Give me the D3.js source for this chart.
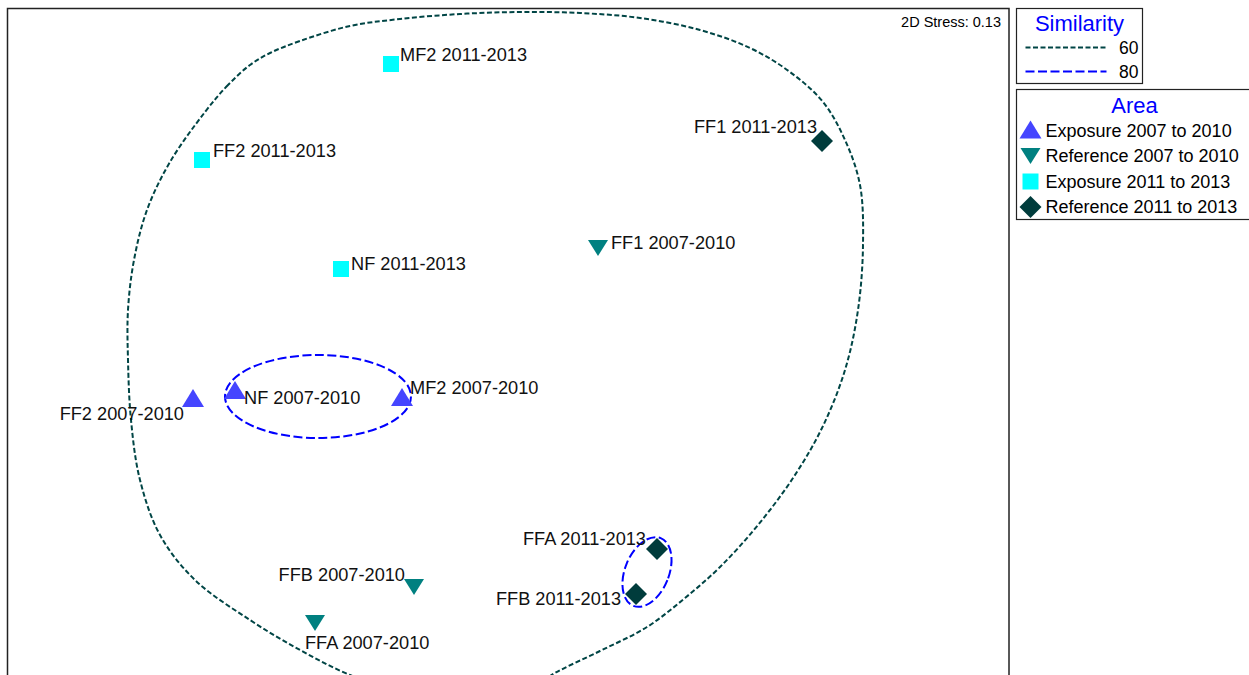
<!DOCTYPE html>
<html>
<head>
<meta charset="utf-8">
<script src="https://cdn.jsdelivr.net/npm/d3@7"></script>
<style>
  body { margin: 0; background: #fff; }
  svg { font-family: "Liberation Sans", Arial, sans-serif; }
</style>
</head>
<body>
<div id="chart"></div>
<script>
// MDS ordination coordinates (arbitrary units)
var sites = ["MF2 2011-2013", "FF2 2011-2013", "NF 2011-2013", "FF1 2007-2010", "FF1 2011-2013",
  "FF2 2007-2010", "NF 2007-2010", "MF2 2007-2010", "FFA 2011-2013", "FFB 2011-2013",
  "FFB 2007-2010", "FFA 2007-2010"];
var groups = ["Exposure 2011 to 2013", "Exposure 2011 to 2013", "Exposure 2011 to 2013", "Reference 2007 to 2010",
  "Reference 2011 to 2013", "Exposure 2007 to 2010", "Exposure 2007 to 2010", "Exposure 2007 to 2010",
  "Reference 2011 to 2013", "Reference 2011 to 2013", "Reference 2007 to 2010", "Reference 2007 to 2010"];
var mdsX = [-0.468, -1.224, -0.668, 0.360, 1.256, -1.260, -1.092, -0.424, 0.596, 0.512, -0.376, -0.772];
var mdsY = [1.104, 0.720, 0.284, 0.368, 0.796, -0.236, -0.204, -0.232, -0.836, -1.016, -0.988, -1.132];

var areaLegend = ["Exposure 2007 to 2010", "Reference 2007 to 2010", "Exposure 2011 to 2013", "Reference 2011 to 2013"];
var similarityLevels = [60, 80];
var stress = 0.13;

// 60% similarity contour, traced anticlockwise from upper left
var contour60 = [[-1.032, 1.1], [-1.12, 1.02], [-1.212, 0.912], [-1.352, 0.712], [-1.444, 0.52], [-1.496, 0.32],
  [-1.52, 0.12], [-1.52, -0.08], [-1.508, -0.32], [-1.472, -0.56], [-1.392, -0.78], [-1.252, -0.96],
  [-1.032, -1.12], [-0.832, -1.24], [-0.632, -1.34], [-0.392, -1.42], [-0.152, -1.448], [0.048, -1.42],
  [0.188, -1.332], [0.368, -1.244], [0.556, -1.148], [0.708, -1.032], [0.848, -0.908], [1.0, -0.74],
  [1.14, -0.552], [1.256, -0.352], [1.348, -0.12], [1.4, 0.12], [1.42, 0.38], [1.408, 0.62],
  [1.348, 0.8], [1.26, 0.952], [1.128, 1.072], [0.968, 1.168], [0.768, 1.24], [0.528, 1.288],
  [0.288, 1.308], [0.048, 1.312], [-0.192, 1.304], [-0.432, 1.284], [-0.632, 1.256], [-0.832, 1.196],
  [-0.952, 1.148]];
// 80% similarity clusters: centre x, centre y, semi-axes, tilt (deg)
var contour80 = [
  { cx: -0.76, cy: -0.226, rx: 0.372, ry: 0.166, tilt: 0 },
  { cx: 0.556, cy: -0.928, rx: 0.088, ry: 0.146, tilt: 22 }
];

var width = 1249, height = 675;
var plot = { x0: 7.5, y0: 8.5, x1: 1009, y1: 700 };

var svg = d3.select("#chart").append("svg")
  .attr("width", width)
  .attr("height", height);

var x = d3.scaleLinear().domain([-2, 2]).range([8, 1008]);
var y = d3.scaleLinear().domain([1.33, -1.33]).range([7.5, 672.5]);

var colors = {
  "Exposure 2007 to 2010": "#4545ff",
  "Reference 2007 to 2010": "#008080",
  "Exposure 2011 to 2013": "#00ffff",
  "Reference 2011 to 2013": "#003c3c"
};
var shapes = {
  "Exposure 2007 to 2010": "up",
  "Reference 2007 to 2010": "down",
  "Exposure 2011 to 2013": "square",
  "Reference 2011 to 2013": "diamond"
};

function symbolPath(kind) {
  if (kind == "up") return "M0,-10 L11,8 L-11,8 Z";
  if (kind == "down") return "M-10,-8 L10,-8 L0,8 Z";
  if (kind == "square") return "M-8,-8 L8,-8 L8,8 L-8,8 Z";
  return "M0,-11 L11,0 L0,11 L-11,0 Z";
}

// plot frame
svg.append("rect")
  .attr("x", plot.x0).attr("y", plot.y0)
  .attr("width", plot.x1 - plot.x0).attr("height", plot.y1 - plot.y0)
  .attr("fill", "none").attr("stroke", "#222").attr("stroke-width", 1.5);

svg.append("text")
  .attr("x", 1001).attr("y", 27)
  .attr("text-anchor", "end")
  .style("font-size", "14.5px")
  .text("2D Stress: " + stress);

var g = svg.append("g");

// 60 contour
var line = d3.line()
  .x(d => x(d[0]))
  .y(d => y(d[1]))
  .curve(d3.curveCatmullRomClosed);

g.append("path")
  .attr("d", line(contour60))
  .attr("fill", "none")
  .attr("stroke", "#004545")
  .attr("stroke-width", 2)
  .attr("stroke-dasharray", "5,2.5");

// 80 contours
g.selectAll("ellipse.c80")
  .data(contour80)
  .enter().append("ellipse")
  .attr("class", "c80")
  .attr("cx", 0).attr("cy", 0)
  .attr("rx", d => x(d.rx) - x(0))
  .attr("ry", d => y(0) - y(d.ry))
  .attr("transform", d => "translate(" + x(d.cx) + "," + y(d.cy) + ") rotate(" + d.tilt + ")")
  .attr("fill", "none")
  .attr("stroke", "#0000ff")
  .attr("stroke-width", 2)
  .attr("stroke-dasharray", "9,3.5");

// points
var points = sites.map((s, i) => ({ name: s, group: groups[i], x: mdsX[i], y: mdsY[i] }));

g.selectAll("path.pt")
  .data(points)
  .enter().append("path")
  .attr("class", "pt")
  .attr("d", d => symbolPath(shapes[d.group]))
  .attr("transform", d => "translate(" + x(d.x) + "," + y(d.y) + ")")
  .attr("fill", d => colors[d.group]);

// label placement around each symbol
var labelPos = {
  "MF2 2011-2013": [9, -3, "start"],
  "FF2 2011-2013": [11, -3, "start"],
  "NF 2011-2013": [10, 1, "start"],
  "FF1 2007-2010": [13, 1, "start"],
  "FF1 2011-2013": [-5, -8, "end"],
  "FF2 2007-2010": [-9, 21, "end"],
  "NF 2007-2010": [9, 13, "start"],
  "MF2 2007-2010": [8, -4, "start"],
  "FFA 2011-2013": [-11, -4, "end"],
  "FFB 2011-2013": [-15, 11, "end"],
  "FFB 2007-2010": [-9, -6, "end"],
  "FFA 2007-2010": [-10, 26, "start"]
};

g.selectAll("text.lbl")
  .data(points)
  .enter().append("text")
  .attr("class", "lbl")
  .attr("x", d => x(d.x) + labelPos[d.name][0])
  .attr("y", d => y(d.y) + labelPos[d.name][1])
  .attr("text-anchor", d => labelPos[d.name][2])
  .style("font-size", "18.2px")
  .attr("fill", "#111")
  .text(d => d.name);

// Similarity legend
var sim = svg.append("g").attr("transform", "translate(1016.5,8.5)");
sim.append("rect").attr("width", 126).attr("height", 75)
  .attr("fill", "#fff").attr("stroke", "#222").attr("stroke-width", 1.2);
sim.append("text").attr("x", 63).attr("y", 22).attr("text-anchor", "middle")
  .style("font-size", "22px").attr("fill", "#0000ff").text("Similarity");
var simStyles = [{ c: "#004545", dash: "5,2.5" }, { c: "#0000ff", dash: "9,3.5" }];
similarityLevels.forEach((v, i) => {
  var yy = 39 + i * 24;
  sim.append("line").attr("x1", 9).attr("x2", 90).attr("y1", yy).attr("y2", yy)
    .attr("stroke", simStyles[i].c).attr("stroke-width", 2).attr("stroke-dasharray", simStyles[i].dash);
  sim.append("text").attr("x", 122).attr("y", yy + 6).attr("text-anchor", "end")
    .style("font-size", "17.5px").text(v);
});

// Area legend
var area = svg.append("g").attr("transform", "translate(1016.5,89.5)");
area.append("rect").attr("width", 240).attr("height", 130)
  .attr("fill", "#fff").attr("stroke", "#222").attr("stroke-width", 1.2);
area.append("text").attr("x", 118).attr("y", 23).attr("text-anchor", "middle")
  .style("font-size", "22px").attr("fill", "#0000ff").text("Area");
areaLegend.forEach((name, i) => {
  var yy = 41 + i * 25.5;
  area.append("path").attr("d", symbolPath(shapes[name]))
    .attr("transform", "translate(14," + yy + ")")
    .attr("fill", colors[name]);
  area.append("text").attr("x", 29).attr("y", yy + 6)
    .style("font-size", "18px").text(name);
});
</script>
</body>
</html>
